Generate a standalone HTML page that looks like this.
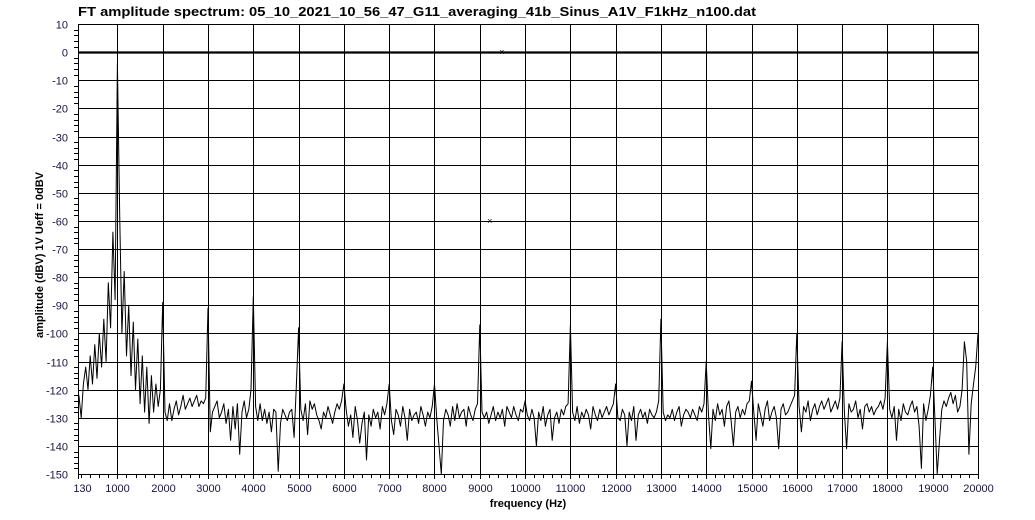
<!DOCTYPE html>
<html><head><meta charset="utf-8"><style>
html,body{margin:0;padding:0;background:#fff;}
svg{display:block;font-family:"Liberation Sans",sans-serif;}
</style></head><body>
<svg id="chart" width="1035" height="520" xmlns="http://www.w3.org/2000/svg">
<text x="78" y="16" font-size="13" font-weight="bold" textLength="678" lengthAdjust="spacingAndGlyphs">FT amplitude spectrum: 05_10_2021_10_56_47_G11_averaging_41b_Sinus_A1V_F1kHz_n100.dat</text>
<text transform="translate(43,255) rotate(-90)" text-anchor="middle" font-size="11" font-weight="bold">amplitude (dBV) 1V Ueff = 0dBV</text>
<text x="528" y="507" text-anchor="middle" font-size="11" font-weight="bold">frequency (Hz)</text>
<g id="grid"></g>
<g id="axes"></g>
<g id="series"></g>
</svg>
<script>
const yTicks=[10,0,-10,-20,-30,-40,-50,-60,-70,-80,-90,-100,-110,-120,-130,-140,-150];
const xTicks=[1000,2000,3000,4000,5000,6000,7000,8000,9000,10000,11000,12000,13000,14000,15000,16000,17000,18000,19000,20000];
const xTickLabels=["1000","2000","3000","4000","5000","6000","7000","8000","9000","10000","11000","12000","13000","14000","15000","16000","17000","18000","19000","20000"];
const freqStart=150, freqStep=50;
const amplitude=[
-122,-130,-118,-112,-120,-108,-118,-104,-116,-100,-112,-95,-110,-82,-98,-64,-88,-4,-58,-100,
-78,-108,-90,-115,-96,-120,-102,-125,-108,-128,-112,-132,-115,-128,-118,-126,-120,-89,-128,-131,
-125,-131,-127,-124,-129,-126,-122,-127,-125,-123,-126,-124,-122,-126,-124,-125,-123,-91,-135,-128,
-126,-124,-130,-128,-125,-132,-127,-138,-126,-134,-125,-143,-128,-124,-130,-127,-120,-87,-126,-131,
-125,-131,-127,-132,-128,-135,-127,-128,-149,-132,-127,-129,-131,-128,-127,-137,-119,-98,-127,-131,
-125,-136,-124,-127,-125,-129,-131,-134,-128,-130,-126,-129,-132,-128,-125,-127,-124,-118,-127,-133,
-129,-137,-126,-131,-139,-132,-128,-145,-129,-133,-127,-130,-128,-134,-126,-129,-125,-118,-131,-136,
-127,-129,-133,-126,-130,-138,-127,-131,-129,-128,-132,-126,-129,-133,-128,-130,-126,-118,-130,-140,
-150,-131,-127,-129,-133,-126,-131,-125,-130,-128,-127,-133,-126,-129,-131,-127,-125,-97,-128,-130,
-128,-132,-129,-126,-131,-128,-130,-127,-133,-126,-128,-130,-126,-129,-131,-127,-128,-124,-129,-131,
-127,-130,-140,-128,-131,-126,-133,-129,-127,-138,-130,-128,-132,-127,-129,-126,-125,-97,-128,-131,
-126,-132,-128,-130,-127,-129,-134,-126,-129,-131,-127,-130,-128,-126,-129,-127,-125,-118,-130,-131,
-127,-129,-140,-128,-131,-126,-138,-129,-127,-130,-128,-132,-127,-129,-130,-128,-124,-95,-128,-131,
-129,-130,-127,-131,-128,-126,-133,-129,-127,-128,-130,-127,-129,-131,-126,-128,-125,-110,-129,-141,
-127,-131,-125,-129,-127,-133,-126,-124,-131,-140,-128,-126,-130,-127,-129,-125,-124,-117,-128,-138,
-125,-129,-133,-127,-124,-131,-128,-126,-130,-141,-127,-125,-129,-128,-126,-124,-122,-100,-126,-135,
-126,-128,-124,-131,-127,-125,-129,-126,-124,-127,-125,-123,-128,-126,-124,-127,-123,-103,-128,-141,
-125,-128,-127,-124,-130,-127,-134,-126,-125,-128,-126,-129,-127,-126,-124,-127,-123,-103,-127,-130,
-126,-138,-127,-131,-125,-128,-129,-126,-124,-128,-126,-133,-148,-125,-131,-127,-122,-112,-131,-150,
-138,-127,-124,-126,-123,-121,-125,-122,-128,-126,-120,-103,-110,-143,-125,-118,-112,-100];
const markerFreqs=[9485,9220];
const markerVals=[0,-60];

const L=78,R=978,T=24,B=474,xMin=130,xMax=20000,yMin=-150,yMax=10;
const sx=f=>L+(f-xMin)/(xMax-xMin)*(R-L);
const sy=v=>T+(yMax-v)/(yMax-yMin)*(B-T);
const NS="http://www.w3.org/2000/svg";
function mk(tag,parent,attrs){const e=document.createElementNS(NS,tag);for(const k in attrs)e.setAttribute(k,attrs[k]);parent.appendChild(e);return e;}
const grid=document.getElementById('grid'),axes=document.getElementById('axes'),series=document.getElementById('series');
yTicks.forEach(v=>{
  const y=Math.round(sy(v))+0.5;
  const gl=mk('line',grid,{x1:L,x2:R,y1:y,y2:y,stroke:'#000','stroke-width':v===0?2.2:1});
  
  
  const t=mk('text',axes,{x:68,y:y+4,'text-anchor':'end','font-size':11,fill:'#1c1440'});
  t.textContent=v;
  
  
});
for(let v=yMin;v<yMax;v+=2){
  if(v%10===0)continue;
  const y=Math.round(sy(v))+0.5;
  mk('line',axes,{x1:74,x2:L,y1:y,y2:y,stroke:'#000','stroke-width':1});
}
xTicks.forEach((f,i)=>{
  const x=Math.round(sx(f))+0.5;
  const gl=mk('line',grid,{x1:x,x2:x,y1:T,y2:B+5,stroke:'#000','stroke-width':1});
  
  
  const t=mk('text',axes,{x:x,y:492,'text-anchor':'middle','font-size':11,fill:'#1c1440'});
  t.textContent=xTickLabels[i];
  
  
});
for(let f=200;f<20000;f+=200){
  if(f%1000===0)continue;
  const x=Math.round(sx(f))+0.5;
  mk('line',axes,{x1:x,x2:x,y1:B,y2:B+4,stroke:'#000','stroke-width':1});
}
{const x=Math.round(sx(130))+0.5;mk('line',axes,{x1:x,x2:x,y1:B,y2:B+5,stroke:'#000'});
 const t=mk('text',axes,{x:x+4,y:492,'text-anchor':'middle','font-size':11,fill:'#1c1440'});t.textContent='130';
 
 }
const frame=mk('rect',axes,{x:L+0.5,y:T+0.5,width:R-L,height:B-T,fill:'none',stroke:'#000','stroke-width':1});


let d='';
amplitude.forEach((v,i)=>{const f=freqStart+i*freqStep;d+=(i?'L':'M')+sx(f).toFixed(1)+','+sy(v).toFixed(1);});
const p=mk('path',series,{d:d,fill:'none',stroke:'#000','stroke-width':1,'stroke-linejoin':'round'});


markerFreqs.forEach((f,i)=>{
  const t=mk('text',series,{x:sx(f),y:sy(markerVals[i])+3,'text-anchor':'middle','font-size':9});
  t.textContent='×';
  
  
});
</script>
</body></html>
